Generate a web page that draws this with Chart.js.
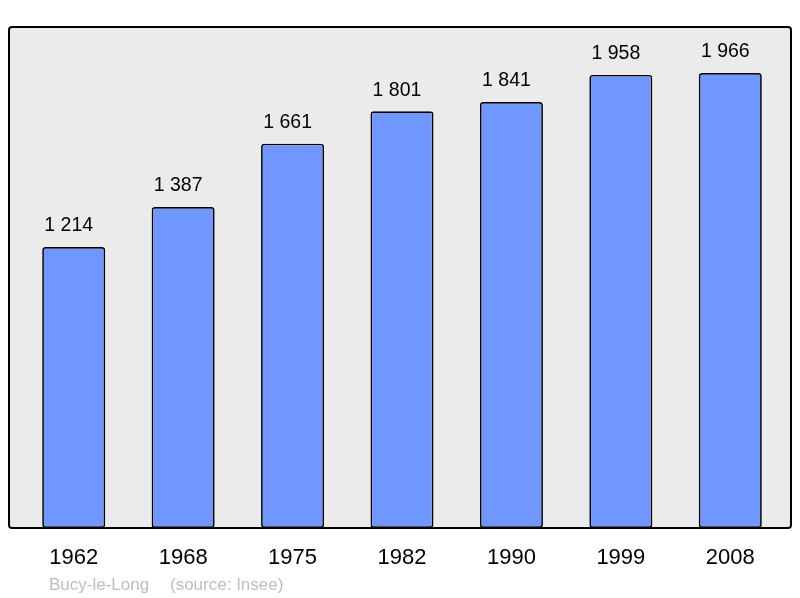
<!DOCTYPE html>
<html>
<head>
<meta charset="utf-8">
<script src="https://cdn.jsdelivr.net/npm/chart.js@4/dist/chart.umd.min.js"></script>
<style>
html,body{margin:0;padding:0;background:#fff;}
#wrap{position:relative;width:800px;height:598px;}
</style>
</head>
<body>
<div id="wrap"><canvas id="c" width="800" height="598"></canvas></div>
<script>
const years = ['1962','1968','1975','1982','1990','1999','2008'];
const population = [1214, 1387, 1661, 1801, 1841, 1958, 1966];
const sourceText = ['Bucy-le-Long', '(source: Insee)'];

function fmt(n){ return String(n).replace(/\B(?=(\d{3})+(?!\d))/g, ' '); }

const framePlugin = {
  id: 'frame',
  beforeDatasetsDraw(chart){
    const {ctx, chartArea:a} = chart;
    ctx.save();
    ctx.beginPath();
    ctx.roundRect(a.left-10, a.top, (a.right+6)-(a.left-10), a.bottom-a.top, 3);
    ctx.fillStyle = '#ebebeb';
    ctx.fill();
    ctx.restore();
  },
  afterDatasetsDraw(chart){
    const {ctx, chartArea:a} = chart;
    ctx.save();
    ctx.beginPath();
    ctx.roundRect(a.left-10, a.top, (a.right+6)-(a.left-10), a.bottom-a.top, 3);
    ctx.lineWidth = 2;
    ctx.strokeStyle = '#000';
    ctx.stroke();
    // value labels
    const meta = chart.getDatasetMeta(0);
    ctx.font = '19.5px "Liberation Sans", Arial, sans-serif';
    ctx.fillStyle = '#000';
    ctx.textAlign = 'center';
    ctx.textBaseline = 'middle';
    meta.data.forEach((bar, i) => {
      ctx.fillText(fmt(population[i]), bar.x - 5, bar.y - 21);
    });
    // source
    ctx.font = '17px "Liberation Sans", Arial, sans-serif';
    ctx.fillStyle = '#bdbdbd';
    ctx.textAlign = 'left';
    ctx.fillText(sourceText[0], 49, 585);
    ctx.fillText(sourceText[1], 170, 585);
    ctx.restore();
  }
};

new Chart(document.getElementById('c'), {
  type: 'bar',
  data: {
    labels: years,
    datasets: [{
      data: population,
      backgroundColor: '#7096ff',
      borderColor: '#000',
      borderWidth: 1.7,
      borderRadius: 3,
      borderSkipped: false,
      barPercentage: 0.576,
      categoryPercentage: 1
    }]
  },
  options: {
    responsive: false,
    animation: false,
    events: [],
    layout: { padding: { left: 19, right: 15, top: 27, bottom: 0 } },
    plugins: { legend: { display: false }, tooltip: { enabled: false } },
    scales: {
      x: {
        grid: { display: false },
        border: { display: false },
        ticks: { color: '#000', font: { size: 22, family: '"Liberation Sans", Arial, sans-serif' }, padding: 9, maxRotation: 0 },
        afterFit(scale){ scale.height = 70; }
      },
      y: {
        display: false,
        min: 0,
        max: 2165
      }
    }
  },
  plugins: [framePlugin]
});
</script>
</body>
</html>
